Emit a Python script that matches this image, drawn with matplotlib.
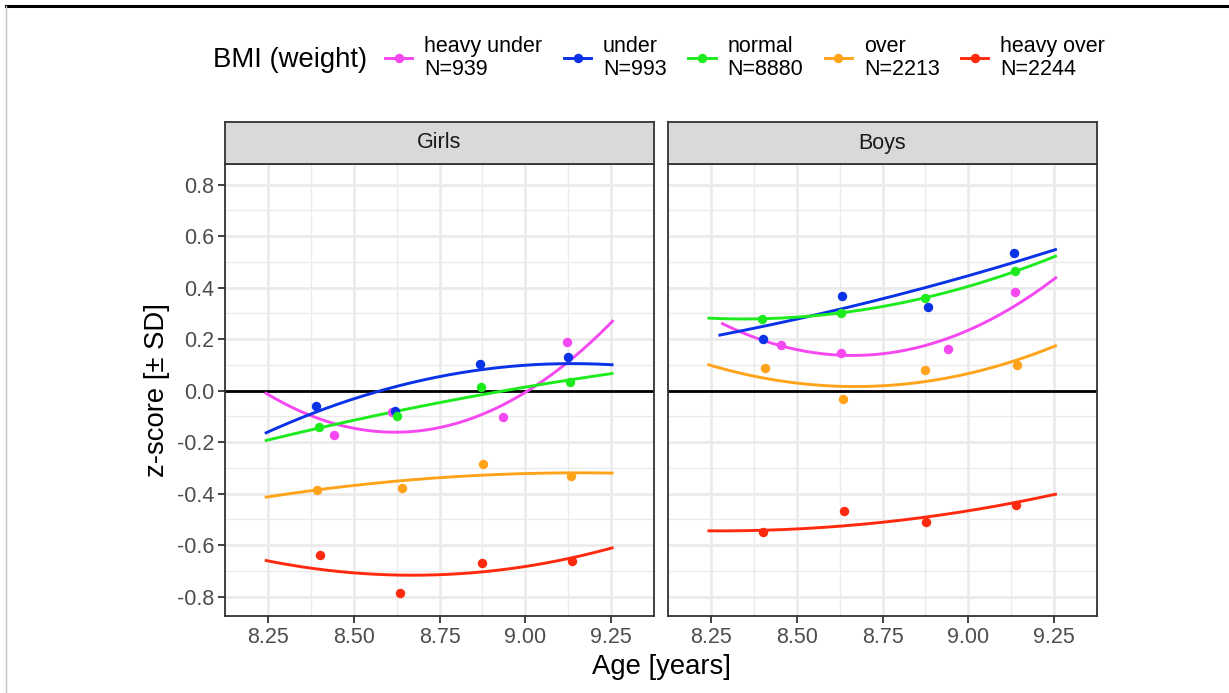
import numpy as np
import matplotlib.pyplot as plt
from matplotlib.lines import Line2D

plt.rcParams['font.family'] = ['Liberation Sans', 'DejaVu Sans']

# BMI groups, sample sizes and colours
groups = ['heavy under', 'under', 'normal', 'over', 'heavy over']
counts = [939, 993, 8880, 2213, 2244]
colors = ['#F548F0', '#0A32E6', '#1EEB1E', '#FFA31A', '#FF2A0E']

# mean z-score per age bin (one list per BMI group)
girls_age = [[8.443, 8.612, 8.935, 9.121],
             [8.390, 8.620, 8.867, 9.125],
             [8.398, 8.625, 8.872, 9.130],
             [8.392, 8.641, 8.877, 9.132],
             [8.402, 8.634, 8.875, 9.136]]
girls_z = [[-0.172, -0.081, -0.103, 0.190],
           [-0.059, -0.078, 0.104, 0.131],
           [-0.140, -0.100, 0.016, 0.035],
           [-0.386, -0.379, -0.283, -0.333],
           [-0.639, -0.786, -0.668, -0.660]]

boys_age = [[8.453, 8.629, 8.940, 9.136],
            [8.401, 8.633, 8.882, 9.133],
            [8.399, 8.629, 8.874, 9.135],
            [8.409, 8.636, 8.874, 9.143],
            [8.402, 8.638, 8.876, 9.140]]
boys_z = [[0.176, 0.146, 0.163, 0.383],
          [0.199, 0.366, 0.326, 0.535],
          [0.280, 0.303, 0.359, 0.463],
          [0.089, -0.031, 0.082, 0.101],
          [-0.550, -0.469, -0.511, -0.444]]

# values along the quadratic trend of each group
girls_trend_age = [[8.241, 8.378, 8.626, 9.029, 9.125, 9.257],
                   [8.241, 8.378, 8.578, 8.868, 9.125, 9.257],
                   [8.241, 8.626, 8.934, 9.029, 9.257],
                   [8.241, 8.392, 8.642, 8.887, 9.134, 9.257],
                   [8.241, 8.402, 8.665, 8.877, 9.138, 9.257]]
girls_trend_z = [[-0.010, -0.094, -0.163, 0.022, 0.104, 0.277],
                 [-0.163, -0.094, 0.000, 0.083, 0.104, 0.100],
                 [-0.194, -0.082, 0.000, 0.022, 0.066],
                 [-0.414, -0.386, -0.350, -0.326, -0.320, -0.320],
                 [-0.661, -0.690, -0.718, -0.703, -0.651, -0.607]]

boys_trend_age = [[8.280, 8.453, 8.691, 9.136, 9.258],
                  [8.272, 8.633, 8.882, 9.258],
                  [8.240, 8.399, 8.629, 8.874, 9.135, 9.258],
                  [8.240, 8.500, 8.691, 9.143, 9.258],
                  [8.240, 8.500, 8.750, 9.000, 9.258]]
boys_trend_z = [[0.263, 0.176, 0.132, 0.339, 0.435],
                [0.215, 0.317, 0.404, 0.549],
                [0.281, 0.280, 0.303, 0.359, 0.463, 0.524],
                [0.100, 0.035, 0.012, 0.119, 0.177],
                [-0.545, -0.535, -0.513, -0.466, -0.401]]

panels = ['Girls', 'Boys']
x_ticks = [8.25, 8.50, 8.75, 9.00, 9.25]
y_ticks = [-0.8, -0.6, -0.4, -0.2, 0.0, 0.2, 0.4, 0.6, 0.8]

W, H = 1229, 693
fig = plt.figure(figsize=(W / 100, H / 100), dpi=100)

grey20 = '#333333'
panel_left = [225, 668]
panel_w = 429
panel_top, panel_bot = 164, 616
strip_top = 122


def draw_panel(ax, ages, zs, t_ages, t_zs):
    ax.axhline(0, color='black', lw=2.0, zorder=2)
    for i in range(len(groups)):
        tx = np.array(t_ages[i])
        coef = np.polyfit(tx, t_zs[i], 2)
        xs = np.linspace(tx.min(), tx.max(), 200)
        ax.plot(xs, np.polyval(coef, xs), color=colors[i], lw=2.1, zorder=3,
                solid_capstyle='butt')
        ax.plot(ages[i], zs[i], 'o', color=colors[i], ms=6.8, mew=0, zorder=4)
    ax.set_xlim(8.192, 9.307)
    ax.set_ylim(-0.875, 0.88)
    ax.set_xticks(x_ticks)
    ax.set_xticklabels(['%.2f' % t for t in x_ticks])
    ax.set_yticks(y_ticks)
    ax.set_yticklabels(['%.1f' % t for t in y_ticks])
    ax.set_xticks(np.arange(8.125, 9.4, 0.25), minor=True)
    ax.set_yticks(np.arange(-0.7, 0.8, 0.2), minor=True)
    ax.grid(True, which='major', color='#EBEBEB', lw=2.0, zorder=0)
    ax.grid(True, which='minor', color='#EBEBEB', lw=1.0, zorder=0)
    ax.set_axisbelow(True)
    ax.tick_params(which='minor', length=0)
    ax.tick_params(which='major', length=5, width=1.3, color=grey20,
                   labelsize=15.5, labelcolor='#4D4D4D', pad=3)
    for s in ax.spines.values():
        s.set_color(grey20)
        s.set_linewidth(1.3)


for p in range(2):
    l = panel_left[p] / W
    b = 1 - panel_bot / H
    ax = fig.add_axes([l, b, panel_w / W, (panel_bot - panel_top) / H])
    if p == 0:
        draw_panel(ax, girls_age, girls_z, girls_trend_age, girls_trend_z)
    else:
        draw_panel(ax, boys_age, boys_z, boys_trend_age, boys_trend_z)
        ax.tick_params(axis='y', which='both', length=0, labelleft=False)
    # facet strip
    sax = fig.add_axes([l, 1 - panel_top / H, panel_w / W, (panel_top - strip_top) / H])
    sax.set_facecolor('#D9D9D9')
    sax.set_xticks([])
    sax.set_yticks([])
    for s in sax.spines.values():
        s.set_color(grey20)
        s.set_linewidth(1.3)
    sax.text(0.5, 0.5, panels[p], ha='center', va='center', fontsize=15.5,
             color='#1A1A1A', transform=sax.transAxes)

fig.text(661 / W, 1 - 667 / H, 'Age [years]', ha='center', va='center', fontsize=19.8)
fig.text(157 / W, 1 - 390 / H, 'z-score [\u00b1 SD]', ha='center', va='center',
         fontsize=19.8, rotation=90)

# legend across the top
handles = [Line2D([], [], color=c, lw=2.1, marker='o', ms=6.8, mew=0) for c in colors]
labels = ['%s\nN=%d' % (g, n) for g, n in zip(groups, counts)]
fig.text(213 / W, 1 - 60 / H, 'BMI (weight)', ha='left', va='center', fontsize=19.8)
leg = fig.legend(handles, labels, ncol=5, loc='center left',
                 bbox_to_anchor=(385 / W, 1 - 58 / H), frameon=False,
                 fontsize=15.5, handlelength=1.27, handletextpad=0.55,
                 columnspacing=1.0, borderpad=0, borderaxespad=0)
for t in leg.get_texts():
    t.set_linespacing(1.08)

# border lines along the top and left edge
fig.add_artist(Line2D([6 / W, 1], [1 - 6 / H, 1 - 6 / H], color='black', lw=2.2))
fig.add_artist(Line2D([6.5 / W, 6.5 / W], [0, 1 - 6 / H], color='#C4C4C4', lw=1.0))

fig.savefig('out.png', dpi=100)
